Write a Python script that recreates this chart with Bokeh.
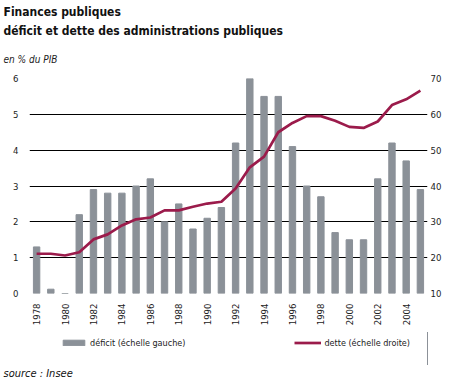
from math import pi
from bokeh.plotting import figure
from bokeh.layouts import column
from bokeh.models import (Range1d, LinearAxis, FixedTicker, Legend, LegendItem, Title)
from bokeh.embed import file_html
from bokeh.resources import INLINE

years = list(range(1978, 2006))
deficit = [1.3, 0.12, 0.0, 2.2, 2.9, 2.8, 2.8, 3.0, 3.2, 2.0, 2.5, 1.8, 2.1, 2.4,
           4.2, 6.0, 5.5, 5.5, 4.1, 3.0, 2.7, 1.7, 1.5, 1.5, 3.2, 4.2, 3.7, 2.9]
dette = [21.1, 21.1, 20.6, 21.5, 25.1, 26.5, 29.0, 30.7, 31.2, 33.2, 33.2, 34.2, 35.1, 35.6,
         39.3, 45.2, 48.2, 55.0, 57.6, 59.5, 59.5, 58.2, 56.5, 56.2, 58.0, 62.6, 64.2, 66.6]
left_ticks = [0, 1, 2, 3, 4, 5, 6]
right_ticks = [10, 20, 30, 40, 50, 60, 70]
year_ticks = list(range(1978, 2005, 2))

FONT = "DejaVu Sans Condensed"
GREY = "#8b9198"
RED = "#9b1b4b"
TXT = "#222222"

p = figure(frame_width=398, frame_height=215, output_backend="svg", toolbar_location=None,
           x_range=Range1d(1977.5, 2005.5), y_range=Range1d(0, 6),
           min_border_left=29, min_border_right=34, min_border_top=76, min_border_bottom=39)
p.outline_line_color = None
p.extra_y_ranges = {"dette": Range1d(10, 70)}

bars = p.vbar(x=years, top=deficit, width=0.45, color=GREY)
line = p.line(x=years, y=dette, y_range_name="dette", line_color=RED, line_width=2.7)

p.xgrid.visible = False
p.ygrid.grid_line_color = "black"
p.ygrid.grid_line_width = 1
p.ygrid.ticker = FixedTicker(ticks=left_ticks)

raxis = LinearAxis(y_range_name="dette", ticker=FixedTicker(ticks=right_ticks))
p.add_layout(raxis, "right")

for ax in [p.xaxis[0], p.yaxis[0], raxis]:
    ax.axis_line_color = None
    ax.major_tick_line_color = None
    ax.minor_tick_line_color = None
    ax.major_tick_out = 0
    ax.major_tick_in = 0
    ax.minor_tick_out = 0
    ax.minor_tick_in = 0
    ax.major_label_text_font = FONT
    ax.major_label_text_font_size = "9.5px"
    ax.major_label_text_color = TXT

p.yaxis[0].ticker = FixedTicker(ticks=left_ticks)
p.yaxis[0].major_label_standoff = 11
raxis.major_label_standoff = 3
p.xaxis[0].ticker = FixedTicker(ticks=year_ticks)
p.xaxis[0].major_label_orientation = pi / 2
p.xaxis[0].major_label_standoff = 10

sub = Title(text="en % du PIB", text_font=FONT, text_font_style="italic",
            text_font_size="10px", text_color=TXT, offset=-26, standoff=28)
t2 = Title(text="déficit et dette des administrations publiques", text_font=FONT,
           text_font_style="bold", text_font_size="12px", text_color="#111111",
           offset=-26, standoff=0)
t1 = Title(text="Finances publiques", text_font=FONT, text_font_style="bold",
           text_font_size="12px", text_color="#111111", offset=-26, standoff=5)
p.add_layout(sub, "above")
p.add_layout(t2, "above")
p.add_layout(t1, "above")

# legend / source strip
lf = figure(width=461, height=47, output_backend="svg", toolbar_location=None,
            x_range=Range1d(0, 1), y_range=Range1d(0, 1),
            x_axis_location=None, y_axis_location=None,
            min_border_left=0, min_border_right=0, min_border_top=0, min_border_bottom=0)
lf.grid.visible = False
lf.outline_line_color = None
lbars = lf.vbar(x=years, top=deficit, width=0.45, color=GREY)
lline = lf.line(x=years, y=dette, line_color=RED, line_width=2.7)

legend = Legend(items=[LegendItem(label="déficit (échelle gauche)", renderers=[lbars]),
                       LegendItem(label="dette (échelle droite)", renderers=[lline])],
                orientation="horizontal", location=(31, 16.5),
                label_text_font=FONT, label_text_font_size="9px", label_text_color=TXT,
                glyph_width=27, glyph_height=7, label_standoff=3, spacing=109,
                border_line_color=None, background_fill_alpha=0, padding=0, margin=0)
lf.add_layout(legend, "center")
src = Title(text="source : Insee", text_font=FONT, text_font_size="11px",
            text_font_style="italic", text_color="#111111", offset=-26, standoff=0)
lf.add_layout(src, "below")

layout = column(p, lf, spacing=0)
open("out.html", "w").write(file_html(layout, INLINE))
